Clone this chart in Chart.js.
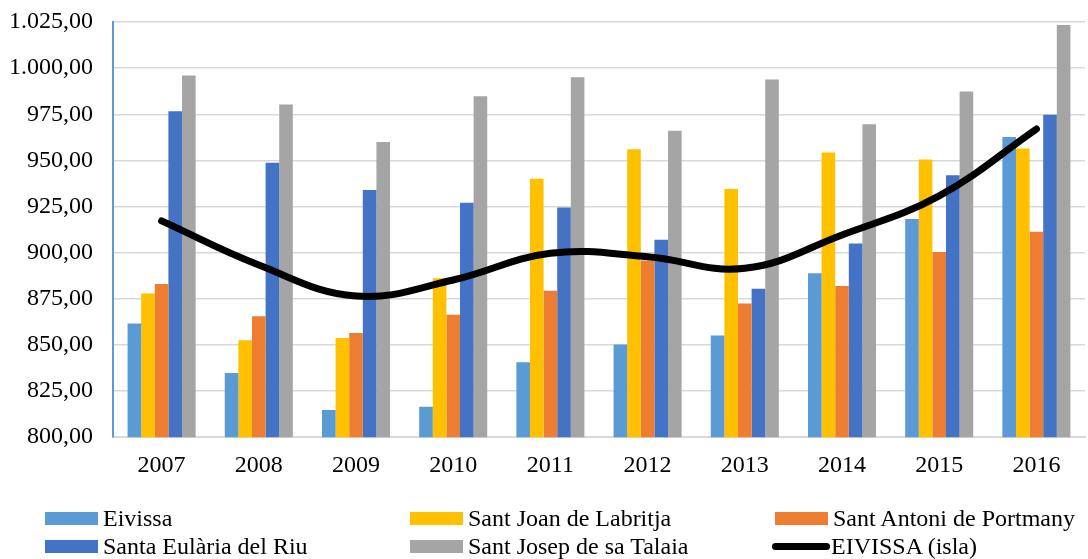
<!DOCTYPE html>
<html>
<head>
<meta charset="utf-8">
<script src="https://cdn.jsdelivr.net/npm/chart.js@4/dist/chart.umd.min.js"></script>
<style>
  html, body { margin: 0; padding: 0; background: #fff; }
  #wrap { position: relative; width: 1088px; height: 559px; }
  #c { position: absolute; left: 0; top: 0; }
  .leg { position: absolute; font-family: "Liberation Serif", "Times New Roman", serif; font-size: 24px; color: #000; display: flex; align-items: center; white-space: nowrap; }
  .box { width: 53px; height: 13px; margin-right: 5px; }
  .lbox { width: 58px; height: 7px; background: #000; border-radius: 4px; margin-right: 1px; }
</style>
</head>
<body>
<div id="wrap">
  <canvas id="c" width="1088" height="559"></canvas>
  <div id="legend"></div>
</div>
<script>
const categories = ["2007","2008","2009","2010","2011","2012","2013","2014","2015","2016"];
const eivissa       = [861.6, 834.8, 814.7, 816.5, 840.6, 850.2, 855.1, 888.8, 918.2, 962.7];
const santJoan      = [877.9, 852.6, 853.8, 886.1, 940.0, 956.0, 934.5, 954.3, 950.5, 956.5];
const santAntoni    = [883.0, 865.6, 856.4, 866.3, 879.3, 895.7, 872.5, 881.9, 900.4, 911.4];
const santaEularia  = [976.6, 948.7, 933.9, 927.0, 924.5, 907.0, 880.4, 904.9, 942.0, 974.8];
const santJosep     = [996.0, 980.3, 960.0, 984.8, 995.1, 966.0, 993.9, 969.6, 987.3, 1023.4];
const eivissaIsla   = [917.2, 893.3, 876.5, 885.2, 899.7, 897.8, 891.5, 909.6, 930.8, 967.0];
const yMin = 800, yMax = 1025, yStep = 25;

const seriesNames = ["Eivissa","Sant Joan de Labritja","Sant Antoni de Portmany","Santa Eulària del Riu","Sant Josep de sa Talaia","EIVISSA (isla)"];
const seriesColors = ["#5B9BD5","#FFC000","#ED7D31","#4472C4","#A5A5A5","#000000"];
const barSeries = [eivissa, santJoan, santAntoni, santaEularia, santJosep];

function fmt(v) {
  const neg = v < 0; v = Math.abs(v);
  let [ip, dp] = v.toFixed(2).split(".");
  ip = ip.replace(/\B(?=(\d{3})+(?!\d))/g, ".");
  return (neg ? "-" : "") + ip + "," + dp;
}

const datasets = barSeries.map((d, i) => ({
  type: "bar",
  label: seriesNames[i],
  data: d,
  backgroundColor: seriesColors[i],
  borderWidth: 0,
  barPercentage: 1.0,
  categoryPercentage: 0.70,
  order: 1
}));
datasets.push({
  type: "line",
  label: seriesNames[5],
  data: eivissaIsla,
  borderColor: "#000",
  borderWidth: 7,
  borderCapStyle: "round",
  tension: 0.4,
  pointRadius: 0,
  fill: false,
  order: 0
});

new Chart(document.getElementById("c"), {
  type: "bar",
  data: { labels: categories, datasets },
  options: {
    responsive: false,
    animation: false,
    devicePixelRatio: 1,
    layout: { padding: { left: 0, right: 3, top: 22, bottom: 73 } },
    plugins: { legend: { display: false }, tooltip: { enabled: false } },
    scales: {
      x: {
        grid: { display: false },
        border: { color: "#D9D9D9", width: 2 },
        ticks: { color: "#000", font: { family: "Liberation Serif", size: 24 }, padding: 6 }
      },
      y: {
        min: yMin, max: yMax,
        grid: { color: "#D9D9D9", lineWidth: 1.5, drawTicks: false },
        border: { color: "#5B9BD5", width: 2 },
        ticks: { stepSize: yStep, color: "#000", font: { family: "Liberation Serif", size: 24, lineHeight: 1 }, padding: 20, callback: v => fmt(v) },
        afterFit: (scale) => { scale.width = 113; scale.paddingTop = 0; }
      }
    }
  }
});

// HTML legend
const legendPos = [
  [45, 518], [410, 518], [775, 518],
  [45, 546], [410, 546], [772, 546]
];
const leg = document.getElementById("legend");
seriesNames.forEach((name, i) => {
  const el = document.createElement("div");
  el.className = "leg";
  el.style.left = legendPos[i][0] + "px";
  el.style.top = (legendPos[i][1] - 14) + "px";
  el.style.height = "28px";
  const b = document.createElement("div");
  if (i === 5) { b.className = "lbox"; } else { b.className = "box"; b.style.background = seriesColors[i]; }
  el.appendChild(b);
  const t = document.createElement("span");
  t.textContent = name;
  el.appendChild(t);
  leg.appendChild(el);
});
</script>
</body>
</html>
